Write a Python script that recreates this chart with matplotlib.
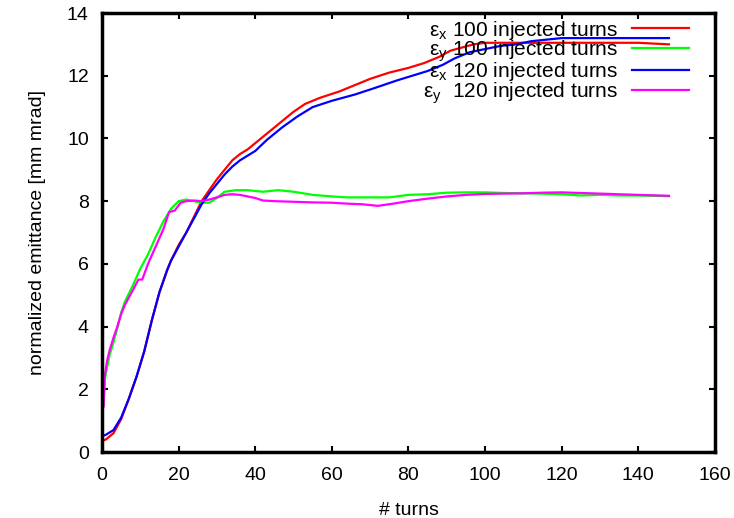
import matplotlib
matplotlib.use("Agg")
import matplotlib.pyplot as plt

plt.rcParams['font.family'] = ['Liberation Sans', 'DejaVu Sans']
plt.rcParams['mathtext.fontset'] = 'custom'
plt.rcParams['mathtext.rm'] = 'Liberation Sans'

# eps_x, 100 injected turns (red)
x_ex100 = [0, 1, 3, 5, 7, 9, 11, 13, 15, 17, 18, 20, 22, 24, 26, 28, 30, 32, 34, 36, 38, 40,
           43, 47, 50, 53, 57, 62, 66, 70, 75, 80, 84, 88, 91, 94, 97, 100, 105, 110, 120, 130, 140, 148]
y_ex100 = [0.35, 0.4, 0.6, 1.05, 1.7, 2.4, 3.2, 4.2, 5.1, 5.8, 6.1, 6.6, 7.0, 7.5, 8.0, 8.35, 8.7,
           9.0, 9.3, 9.5, 9.65, 9.85, 10.15, 10.55, 10.85, 11.1, 11.3, 11.5, 11.7, 11.9, 12.1, 12.25,
           12.4, 12.6, 12.8, 12.9, 13.0, 13.05, 13.05, 13.05, 13.05, 13.05, 13.05, 13.0]

# eps_y, 100 injected turns (green)
x_ey100 = [0, 0.4, 0.7, 1.3, 2, 3, 4, 5, 6, 8, 10, 12, 14, 16, 18, 20, 22, 24, 26, 28, 30, 32, 35, 38,
           42, 46, 50, 55, 60, 64, 70, 75, 80, 85, 90, 95, 100, 105, 110, 115, 120, 125, 130, 135, 140, 148]
y_ey100 = [1.3, 1.5, 2.3, 2.7, 3.1, 3.5, 3.95, 4.45, 4.8, 5.3, 5.85, 6.3, 6.85, 7.35, 7.75, 8.0, 8.05, 8.0,
           7.95, 7.95, 8.1, 8.3, 8.35, 8.35, 8.3, 8.35, 8.3, 8.2, 8.15, 8.12, 8.12, 8.12, 8.2, 8.22,
           8.27, 8.28, 8.28, 8.26, 8.25, 8.24, 8.22, 8.18, 8.2, 8.18, 8.18, 8.16]

# eps_x, 120 injected turns (blue)
x_ex120 = [0, 1, 3, 5, 7, 9, 11, 13, 15, 17, 18, 20, 22, 24, 26, 28, 30, 32, 34, 36, 40, 43, 47,
           51, 55, 60, 66, 71, 77, 81, 85, 89, 92, 96, 100, 104, 108, 112, 116, 120, 130, 140, 148]
y_ex120 = [0.5, 0.55, 0.7, 1.1, 1.7, 2.4, 3.2, 4.2, 5.1, 5.8, 6.1, 6.55, 7.0, 7.45, 7.9, 8.25, 8.55,
           8.85, 9.1, 9.3, 9.6, 9.95, 10.35, 10.7, 11.0, 11.2, 11.4, 11.6, 11.85, 12.0, 12.15, 12.35,
           12.55, 12.75, 12.85, 12.95, 13.0, 13.1, 13.15, 13.2, 13.2, 13.2, 13.2]

# eps_y, 120 injected turns (magenta)
x_ey120 = [0, 0.4, 0.7, 1.3, 2, 3, 4, 5, 6, 8, 9.5, 10.5, 12, 14, 16, 17.5, 19, 20.5, 22, 24, 26, 28, 30,
           32, 34, 36, 38, 40, 42, 45, 50, 55, 60, 64, 68, 72, 76, 80, 85, 90, 95, 100, 105, 110,
           115, 120, 125, 130, 135, 140, 148]
y_ey120 = [1.3, 1.45, 2.4, 2.9, 3.25, 3.65, 4.0, 4.4, 4.7, 5.15, 5.5, 5.5, 6.0, 6.55, 7.1, 7.65, 7.7, 7.95,
           8.0, 8.02, 8.0, 8.05, 8.12, 8.2, 8.22, 8.2, 8.15, 8.1, 8.02, 8.0, 7.98, 7.96, 7.95, 7.92,
           7.9, 7.85, 7.92, 8.0, 8.08, 8.15, 8.2, 8.23, 8.24, 8.25, 8.27, 8.28, 8.26, 8.24, 8.22, 8.2, 8.17]

labels = [r'ε$_\mathrm{x}$ 100 injected turns', r'ε$_\mathrm{y}$ 100 injected turns',
          r'ε$_\mathrm{x}$ 120 injected turns', r'ε$_\mathrm{y}$  120 injected turns']
colors = ['#ff0000', '#00ff00', '#0000ff', '#ff00ff']
xticks = [0, 20, 40, 60, 80, 100, 120, 140, 160]
yticks = [0, 2, 4, 6, 8, 10, 12, 14]

fig = plt.figure(figsize=(7.34, 5.18), dpi=100)
ax = fig.add_axes([0.139, 0.1274, 0.835, 0.8475])

series = [(x_ex100, y_ex100), (x_ey100, y_ey100), (x_ex120, y_ex120), (x_ey120, y_ey120)]
for (xs, ys), c, lab in zip(series, colors, labels):
    ax.plot(xs, ys, color=c, lw=1.6, label=lab)

ax.set_xlim(0, 160)
ax.set_ylim(0, 14)
ax.set_xticks(xticks)
ax.set_yticks(yticks)
ax.tick_params(direction='in', top=True, right=True, length=4.5, width=1.5, labelsize=14)
ax.tick_params(axis='x', pad=11)
ax.tick_params(axis='y', pad=9.5)
for s in ax.spines.values():
    s.set_linewidth(2.5)
ax.set_xlabel('# turns', fontsize=14, labelpad=13)
ax.set_ylabel('normalized emittance [mm mrad]', fontsize=14, labelpad=15)

leg = ax.legend(loc='upper right', frameon=False, markerfirst=False, fontsize=15,
                handlelength=2.74, handletextpad=0.67, labelspacing=-0.17,
                borderpad=0, borderaxespad=0, bbox_to_anchor=(0.9576, 0.987))

fig.savefig('out.png', dpi=100)
